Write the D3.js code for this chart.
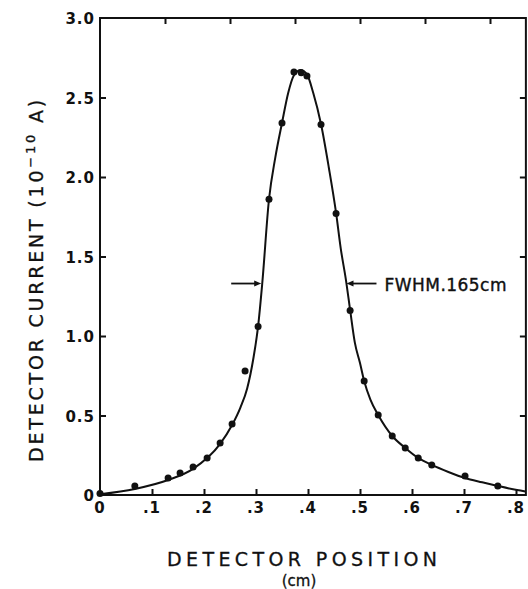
<!DOCTYPE html>
<html>
<head>
<meta charset="utf-8">
<script src="https://cdn.jsdelivr.net/npm/d3@7"></script>
<style>
  html, body { margin: 0; padding: 0; background: #fff; }
  svg { display: block; }
</style>
</head>
<body>
<svg id="chart" width="528" height="589"></svg>
<script>
// ---- data ----
const xTicks = [0, 0.1, 0.2, 0.3, 0.4, 0.5, 0.6, 0.7, 0.8];
const xTickLabels = ["0", ".1", ".2", ".3", ".4", ".5", ".6", ".7", ".8"];
const yTicks = [0, 0.5, 1.0, 1.5, 2.0, 2.5, 3.0];
const yTickLabels = ["0", "0.5", "1.0", "1.5", "2.0", "2.5", "3.0"];
const topTicks = [0.125, 0.25, 0.375, 0.5, 0.625, 0.75];

// measured points (detector position cm, current 1e-10 A)
const pointX = [0.0, 0.067, 0.131, 0.154, 0.179, 0.206, 0.231, 0.254, 0.279, 0.304, 0.325, 0.350,
                0.373, 0.387, 0.398, 0.425, 0.454, 0.481, 0.508, 0.535, 0.562, 0.587, 0.612,
                0.638, 0.702, 0.765];
const pointY = [0.01, 0.057, 0.107, 0.138, 0.176, 0.233, 0.327, 0.447, 0.78, 1.06, 1.86, 2.34,
                2.66, 2.655, 2.635, 2.33, 1.77, 1.16, 0.717, 0.503, 0.371, 0.296, 0.233,
                0.189, 0.12, 0.057];

// fitted curve
const curveX = [0.0, 0.067, 0.131, 0.179, 0.231, 0.254, 0.270, 0.283, 0.295, 0.304, 0.312, 0.325,
                0.337, 0.350, 0.362, 0.373, 0.386, 0.398, 0.410, 0.425, 0.440, 0.454, 0.463,
                0.473, 0.481, 0.490, 0.500, 0.508, 0.520, 0.535, 0.562, 0.587, 0.612, 0.638,
                0.670, 0.702, 0.735, 0.765, 0.802, 0.818];
const curveY = [0.005, 0.038, 0.094, 0.164, 0.321, 0.44, 0.55, 0.67, 0.86, 1.06, 1.33, 1.86,
                2.12, 2.34, 2.53, 2.64, 2.673, 2.645, 2.53, 2.333, 2.06, 1.774, 1.55,
                1.352, 1.164, 0.96, 0.83, 0.717, 0.60, 0.503, 0.371, 0.296, 0.233, 0.189,
                0.145, 0.107, 0.08, 0.057, 0.031, 0.022];

// FWHM annotation
const halfMax = 1.33;
const fwhmLeftX = 0.310;
const fwhmRightX = 0.474;
const fwhmLabel = "FWHM.165cm";

// ---- scales ----
const svg = d3.select("#chart");
const x = d3.scaleLinear().domain([0, 0.8]).range([100, 516]);
const y = d3.scaleLinear().domain([0, 3.0]).range([495, 18]);
const xMax = 0.819;

const ink = "#111";
const g = svg.append("g");

// frame
g.append("rect")
  .attr("x", x(0)).attr("y", y(3.0))
  .attr("width", x(xMax) - x(0)).attr("height", y(0) - y(3.0))
  .attr("fill", "none").attr("stroke", ink).attr("stroke-width", 2);

// bottom axis ticks (inward)
const bottomAxis = d3.axisTop(x).tickValues(xTicks.slice(1)).tickSize(6).tickFormat("");
g.append("g").attr("transform", `translate(0,${y(0)})`).call(bottomAxis)
  .call(s => s.select(".domain").remove())
  .selectAll("line").attr("stroke", ink).attr("stroke-width", 2);

// top ticks (inward)
const topAxis = d3.axisBottom(x).tickValues(topTicks).tickSize(6).tickFormat("");
g.append("g").attr("transform", `translate(0,${y(3.0)})`).call(topAxis)
  .call(s => s.select(".domain").remove())
  .selectAll("line").attr("stroke", ink).attr("stroke-width", 2);

// left ticks (inward)
const leftAxis = d3.axisRight(y).tickValues(yTicks.slice(1, -1)).tickSize(6).tickFormat("");
g.append("g").attr("transform", `translate(${x(0)},0)`).call(leftAxis)
  .call(s => s.select(".domain").remove())
  .selectAll("line").attr("stroke", ink).attr("stroke-width", 2);

// right ticks (inward)
const rightAxis = d3.axisLeft(y).tickValues(yTicks.slice(1, -1)).tickSize(6).tickFormat("");
g.append("g").attr("transform", `translate(${x(xMax)},0)`).call(rightAxis)
  .call(s => s.select(".domain").remove())
  .selectAll("line").attr("stroke", ink).attr("stroke-width", 2);

// tick labels
const tickFont = "'DejaVu Sans', sans-serif";
g.append("g").selectAll("text").data(xTicks).join("text")
  .attr("x", d => x(d)).attr("y", 513)
  .attr("text-anchor", "middle")
  .attr("font-family", tickFont).attr("font-weight", "bold").attr("font-size", 15)
  .attr("letter-spacing", 1)
  .attr("fill", ink)
  .text((d, i) => xTickLabels[i]);

g.append("g").selectAll("text").data(yTicks).join("text")
  .attr("x", 95).attr("y", d => y(d) + 6)
  .attr("text-anchor", "end")
  .attr("font-family", tickFont).attr("font-weight", "bold").attr("font-size", 15)
  .attr("letter-spacing", 1)
  .attr("fill", ink)
  .text((d, i) => yTickLabels[i]);

// curve
const line = d3.line().x(d => x(d[0])).y(d => y(d[1])).curve(d3.curveMonotoneX);
g.append("path")
  .datum(curveX.map((v, i) => [v, curveY[i]]))
  .attr("d", line)
  .attr("fill", "none").attr("stroke", ink).attr("stroke-width", 2);

// points
g.append("g").selectAll("circle").data(pointX).join("circle")
  .attr("cx", d => x(d)).attr("cy", (d, i) => y(pointY[i]))
  .attr("r", 3.5).attr("fill", ink);

// FWHM arrows
const arrowLen = 30;
function arrow(tipX, dir) {
  const tx = x(tipX), ty = y(halfMax);
  g.append("line")
    .attr("x1", tx + dir * arrowLen).attr("y1", ty)
    .attr("x2", tx + dir * 4).attr("y2", ty)
    .attr("stroke", ink).attr("stroke-width", 1.8);
  g.append("path")
    .attr("d", `M${tx},${ty} L${tx + dir * 7},${ty - 3} L${tx + dir * 7},${ty + 3} Z`)
    .attr("fill", ink);
}
arrow(fwhmLeftX, -1);
arrow(fwhmRightX, 1);

g.append("text")
  .attr("x", x(fwhmRightX) + 38).attr("y", y(halfMax) + 7)
  .attr("font-family", tickFont).attr("font-size", 17)
  .attr("textLength", 122).attr("lengthAdjust", "spacing")
  .attr("stroke", ink).attr("stroke-width", 0.4)
  .attr("fill", ink)
  .text(fwhmLabel);

// axis titles
g.append("text")
  .attr("x", 302).attr("y", 566)
  .attr("text-anchor", "middle")
  .attr("font-family", tickFont).attr("font-size", 19)
  .attr("textLength", 270).attr("lengthAdjust", "spacing")
  .attr("stroke", ink).attr("stroke-width", 0.3)
  .attr("fill", ink)
  .text("DETECTOR POSITION");

g.append("text")
  .attr("x", 299).attr("y", 586)
  .attr("text-anchor", "middle")
  .attr("font-family", tickFont).attr("font-size", 15)
  .attr("stroke", ink).attr("stroke-width", 0.3)
  .attr("fill", ink)
  .text("(cm)");

const yl = g.append("text")
  .attr("transform", "translate(43,462) rotate(-90)")
  .attr("text-anchor", "start")
  .attr("font-family", tickFont).attr("font-size", 19)
  .attr("letter-spacing", 2.8)
  .attr("stroke", ink).attr("stroke-width", 0.3)
  .attr("fill", ink);
yl.append("tspan").text("DETECTOR  CURRENT  (10");
yl.append("tspan").attr("dy", -8).attr("font-size", 13).text("\u221210");
yl.append("tspan").attr("dy", 8).text("  A)");
</script>
</body>
</html>
